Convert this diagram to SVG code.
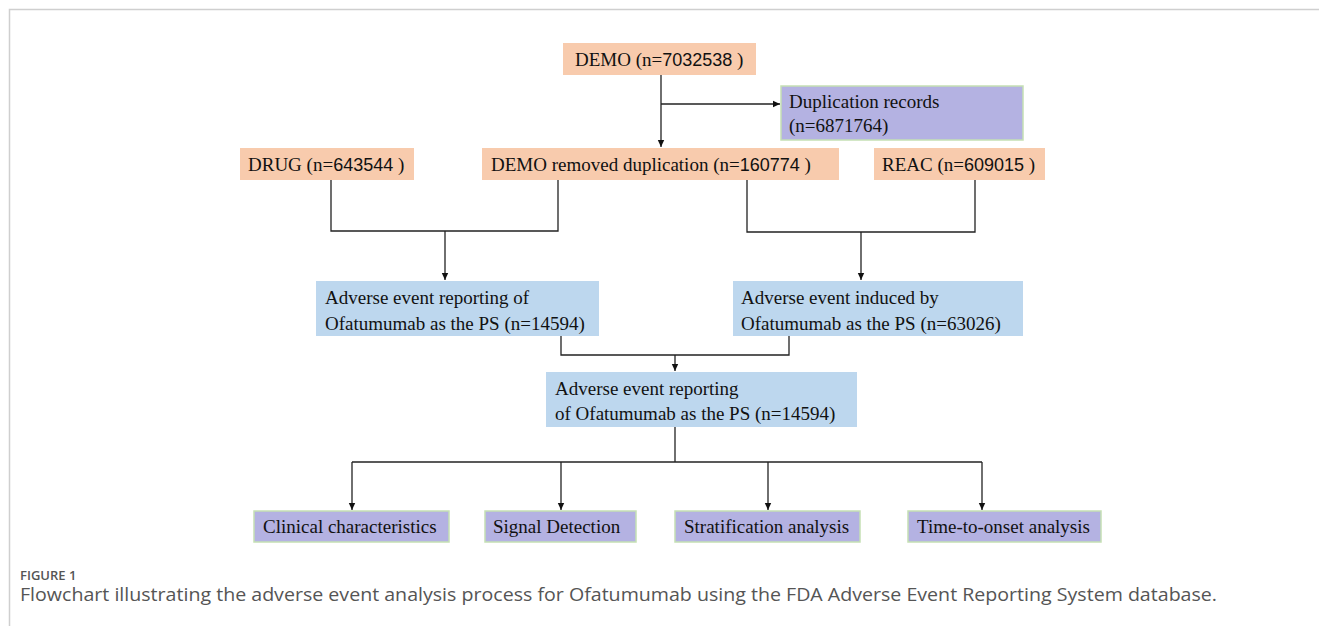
<svg xmlns="http://www.w3.org/2000/svg" width="1319" height="626" viewBox="0 0 1319 626">
<defs>
<marker id="ah" markerWidth="8" markerHeight="8" refX="7" refY="4" orient="auto" markerUnits="userSpaceOnUse">
<path d="M0,0.8 L7,4 L0,7.2 Z" fill="#111"/>
</marker>
<style>
.peach{fill:#f8cbad;stroke:none}
.blue{fill:#bdd7ee;stroke:none}
.lav{fill:#b4b2e2;stroke:#c5e0b4;stroke-width:1.5}
.t{font-family:"Liberation Serif","Times New Roman",serif;font-size:19px;fill:#111}
.n{font-family:"Liberation Sans",Arial,sans-serif;font-size:18px}
.ln{fill:none;stroke:#222;stroke-width:1.3}
.cap{font-family:"Open Sans","Noto Sans",sans-serif;fill:#555}
</style>
</defs>
<rect width="1319" height="626" fill="#fff"/>
<path d="M9.5,626 V9.5 H1319" fill="none" stroke="#cfcfcf" stroke-width="1.5"/>

<g id="connectors">
<path class="ln" d="M661,75 V147" marker-end="url(#ah)"/>
<path class="ln" d="M661,104 H780" marker-end="url(#ah)"/>
<path class="ln" d="M331,180 V231 H558 V180"/>
<path class="ln" d="M445,231 V280" marker-end="url(#ah)"/>
<path class="ln" d="M747,180 V232 H975 V180"/>
<path class="ln" d="M861,232 V280" marker-end="url(#ah)"/>
<path class="ln" d="M561,336 V355 H789 V336"/>
<path class="ln" d="M675,355 V371" marker-end="url(#ah)"/>
<path class="ln" d="M675,427 V462"/>
<path class="ln" d="M352,462 H982"/>
<path class="ln" d="M352,462 V510" marker-end="url(#ah)"/>
<path class="ln" d="M561,462 V510" marker-end="url(#ah)"/>
<path class="ln" d="M768,462 V510" marker-end="url(#ah)"/>
<path class="ln" d="M982,462 V510" marker-end="url(#ah)"/>
</g>

<g id="demo">
<rect class="peach" x="563" y="43" width="193" height="32"/>
<text class="t" x="575" y="66">DEMO (n=<tspan class="n">7032538</tspan> )</text>
</g>
<g id="dup">
<rect class="lav" x="781" y="86" width="242" height="54"/>
<text class="t" x="789" y="108">Duplication records</text>
<text class="t" x="789" y="132">(n=6871764)</text>
</g>
<g id="drug">
<rect class="peach" x="240" y="148" width="174" height="32"/>
<text class="t" x="248" y="171">DRUG (n=<tspan class="n">643544</tspan> )</text>
</g>
<g id="demo-removed">
<rect class="peach" x="482" y="148" width="357" height="32"/>
<text class="t" x="491" y="171">DEMO removed duplication (n=<tspan class="n">160774</tspan> )</text>
</g>
<g id="reac">
<rect class="peach" x="874" y="148" width="171" height="32"/>
<text class="t" x="882" y="171">REAC (n=<tspan class="n">609015</tspan> )</text>
</g>
<g id="ae-reporting">
<rect class="blue" x="316" y="281" width="283" height="55"/>
<text class="t" x="325" y="304">Adverse event reporting of</text>
<text class="t" x="325" y="330">Ofatumumab as the PS (n=14594)</text>
</g>
<g id="ae-induced">
<rect class="blue" x="733" y="281" width="290" height="55"/>
<text class="t" x="741" y="304">Adverse event induced by</text>
<text class="t" x="741" y="330">Ofatumumab as the PS (n=63026)</text>
</g>
<g id="ae-final">
<rect class="blue" x="546" y="372" width="311" height="55"/>
<text class="t" x="555" y="395">Adverse event reporting</text>
<text class="t" x="555" y="420">of Ofatumumab as the PS (n=14594)</text>
</g>
<g id="clinical">
<rect class="lav" x="254" y="511" width="195" height="31"/>
<text class="t" x="263" y="533">Clinical characteristics</text>
</g>
<g id="signal">
<rect class="lav" x="485" y="511" width="151" height="31"/>
<text class="t" x="493" y="533">Signal Detection</text>
</g>
<g id="strat">
<rect class="lav" x="675" y="511" width="185" height="31"/>
<text class="t" x="684" y="533">Stratification analysis</text>
</g>
<g id="tto">
<rect class="lav" x="908" y="511" width="193" height="31"/>
<text class="t" x="917" y="533">Time-to-onset analysis</text>
</g>

<g id="caption">
<text class="cap" x="20" y="580" font-size="13" font-weight="600" fill="#666">FIGURE 1</text>
<text class="cap" x="20" y="601" font-size="18" textLength="1197" lengthAdjust="spacingAndGlyphs">Flowchart illustrating the adverse event analysis process for Ofatumumab using the FDA Adverse Event Reporting System database.</text>
</g>
</svg>
